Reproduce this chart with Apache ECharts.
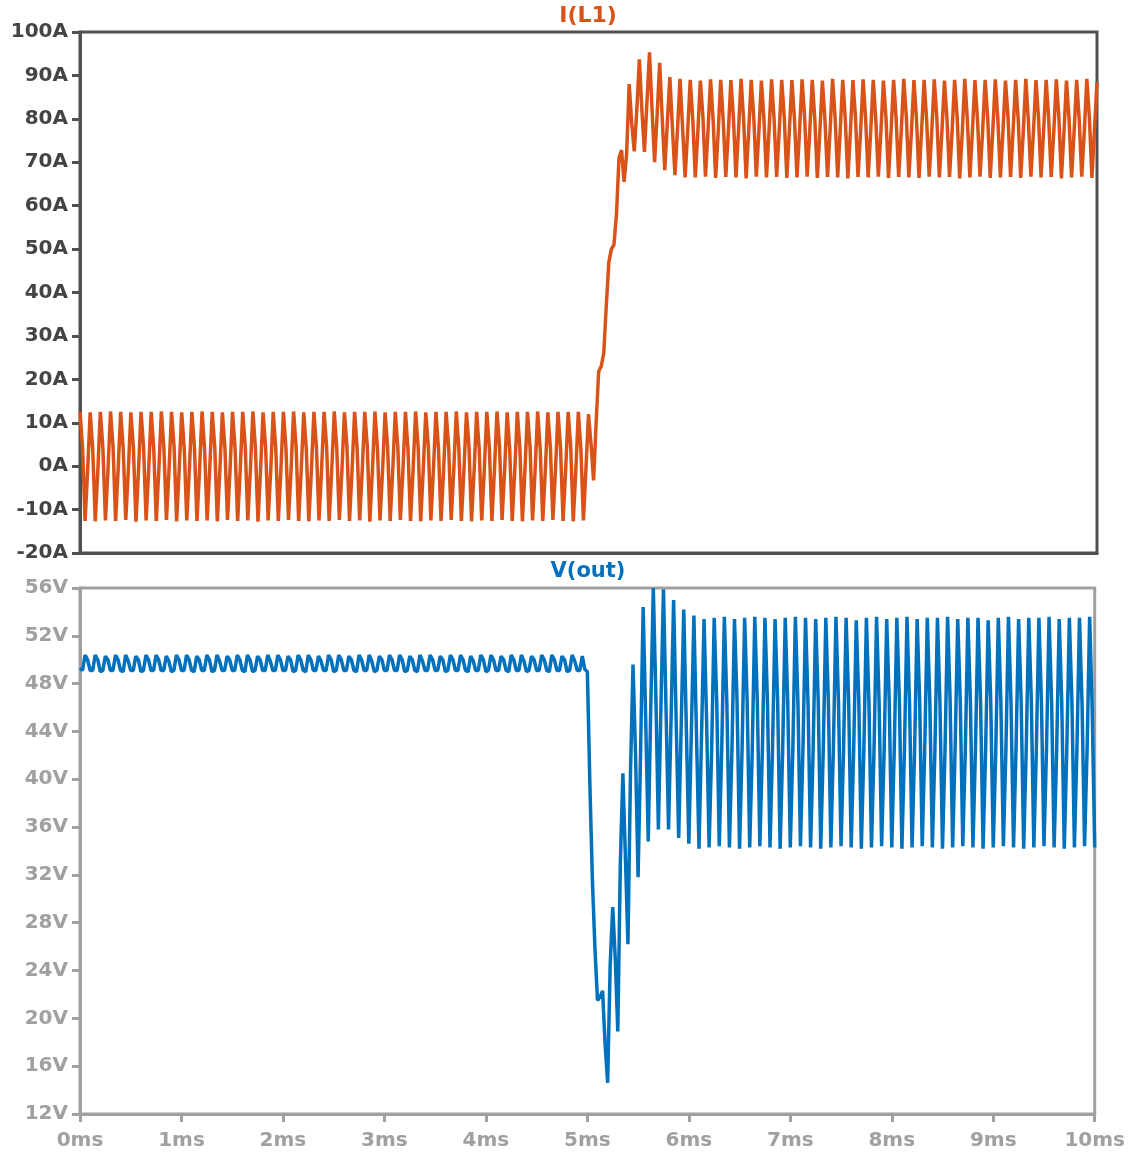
<!DOCTYPE html>
<html>
<head>
<meta charset="utf-8">
<script src="https://cdn.jsdelivr.net/npm/echarts@6/dist/echarts.min.js"></script>
<style>
html,body{margin:0;padding:0;background:#fff;}
#c{width:1128px;height:1154px;}
</style>
</head>
<body>
<div id="c"></div>
<script>
// ---- data ----
// sample step of the traces, in ms
const sampleStepMs = 0.025;
const xTicksMs = [0,1,2,3,4,5,6,7,8,9,10];

// I(L1) in A, one row of 4 samples per 0.1 ms switching cycle, 10 cycles per line
const iL1 = [
 12.5,4.5,-12.6,-1, 12.4,4,-12.7,-1.2, 12.5,4.2,-12.5,-1, 12.6,4.5,-12.6,-0.8, 12.5,4,-12.4,-1, 12.4,4.3,-12.8,-1.2, 12.5,4.5,-12.5,-1, 12.5,4,-12.6,-1, 12.6,4.2,-12.4,-1.1, 12.5,4.5,-12.7,-1,
 12.4,4,-12.5,-1, 12.5,4.4,-12.6,-1.2, 12.6,4,-12.5,-0.9, 12.5,4.5,-12.7,-1, 12.4,4.2,-12.4,-1, 12.5,4,-12.6,-1.1, 12.5,4.5,-12.5,-1, 12.6,4.1,-12.8,-1, 12.4,4.4,-12.5,-1.2, 12.5,4,-12.6,-1,
 12.5,4.3,-12.4,-1, 12.6,4.5,-12.6,-1, 12.4,4,-12.7,-1.1, 12.5,4.2,-12.5,-0.9, 12.5,4.5,-12.6,-1, 12.6,4,-12.4,-1.2, 12.4,4.4,-12.6,-1, 12.5,4.1,-12.5,-1, 12.5,4.5,-12.8,-1.1, 12.6,4,-12.5,-1,
 12.4,4.2,-12.6,-1, 12.5,4.5,-12.4,-1.2, 12.5,4,-12.6,-1, 12.6,4.3,-12.7,-0.9, 12.4,4.5,-12.5,-1, 12.5,4,-12.6,-1.1, 12.5,4.4,-12.4,-1, 12.6,4.1,-12.6,-1, 12.4,4.5,-12.7,-1.2, 12.5,4,-12.5,-1,
 12.5,4.3,-12.6,-1, 12.6,4.5,-12.4,-1.1, 12.4,4,-12.6,-1, 12.5,4.2,-12.7,-0.9, 12.5,4.5,-12.5,-1, 12.6,4,-12.6,-1.2, 12.4,4.4,-12.4,-1, 12.5,4.1,-12.6,-1, 12.5,4.5,-12.7,-1.1, 12.5,4,-12.5,-0.5,
 12,5,-3.3,10, 21.8,23,26,37, 47,50,51,58, 71,72.8,65.5,72, 88,79,72.5,82, 93.7,82,72.4,84, 95.3,82,70,81, 92.9,80,68.2,79, 89.6,78,67,77.5, 89.2,78,66.5,77,
 89,80,66.5,77, 88.8,80.5,66.7,77.2, 89.1,80,66.4,76.8, 89,79.5,66.6,77, 88.9,80.2,66.5,77.3, 89.2,80,66.3,77, 89,80.4,66.7,76.9, 88.8,80,66.5,77.1, 89.1,79.8,66.6,77, 89,80.3,66.4,77.2,
 88.9,80,66.5,77, 89.1,80.5,66.7,76.8, 89,80,66.4,77.1, 88.8,79.7,66.6,77, 89.2,80.2,66.5,77.3, 89,80,66.3,77, 88.9,80.4,66.6,76.9, 89.1,80,66.5,77.2, 89,79.8,66.7,77, 88.8,80.3,66.4,77.1,
 89,80,66.6,77, 89.2,80.5,66.5,76.9, 88.9,80,66.4,77.2, 89,79.6,66.7,77, 89.1,80.2,66.5,77.1, 88.8,80,66.6,77, 89,80.4,66.3,76.8, 89.2,80,66.5,77.2, 88.9,79.8,66.7,77, 89,80.3,66.4,77.1,
 89.1,80,66.5,77, 88.8,80.5,66.6,77.2, 89,80,66.4,76.9, 89.2,79.7,66.7,77, 88.9,80.2,66.5,77.3, 89,80,66.6,77, 89.1,80.4,66.3,76.9, 88.8,80,66.5,77.1, 89,79.8,66.7,77, 89.2,80.3,66.4,77.5,
 88.5
];

// V(out) in V, same sampling: trough, rise, peak, fall for each 0.1 ms cycle
const vOut = [
 49.3,49.1,50.4,50, 49.1,49.1,50.4,50, 49,49.1,50.3,50, 49.1,49.1,50.4,50, 49.1,49,50.4,49.9, 49.1,49.1,50.3,50, 49,49.1,50.4,50, 49.1,49.1,50.4,50, 49.1,49.1,50.3,49.9, 49,49.1,50.4,50,
 49.1,49.1,50.4,50, 49.1,49,50.3,50, 49.1,49.1,50.4,50, 49,49.1,50.4,49.9, 49.1,49.1,50.3,50, 49.1,49.1,50.4,50, 49.1,49,50.4,50, 49,49.1,50.3,50, 49.1,49.1,50.4,49.9, 49.1,49.1,50.4,50,
 49.1,49.1,50.3,50, 49,49.1,50.4,50, 49.1,49,50.4,50, 49.1,49.1,50.3,49.9, 49.1,49.1,50.4,50, 49,49.1,50.4,50, 49.1,49.1,50.3,50, 49.1,49,50.4,50, 49.1,49.1,50.4,49.9, 49,49.1,50.3,50,
 49.1,49.1,50.4,50, 49.1,49.1,50.4,50, 49,49.1,50.3,50, 49.1,49,50.4,49.9, 49.1,49.1,50.4,50, 49.1,49.1,50.3,50, 49,49.1,50.4,50, 49.1,49.1,50.4,50, 49.1,49,50.3,49.9, 49.1,49.1,50.4,50,
 49,49.1,50.4,50, 49.1,49.1,50.3,50, 49.1,49,50.4,50, 49.1,49.1,50.4,49.9, 49,49.1,50.3,50, 49.1,49.1,50.4,50, 49.1,49,50.4,50, 49.1,49.1,50.3,50, 49,49.1,50.4,49.9, 49.1,49.1,50.3,49.2,
 49,39.5,31.5,25.8, 21.5,21.8,22.3,17.8, 14.6,24.5,29.3,25, 18.9,33,40.5,33.5, 26.2,40.5,49.6,42, 31.8,42.5,54.4,45, 34.8,46,56,47, 35.8,46,55.9,46, 35.8,45,55,45, 35.1,44.5,54.2,44.5,
 34.6,44,53.7,44, 34.2,43.5,53.4,45, 34.3,42.5,53.5,46.5, 34.4,42.8,53.6,46.3, 34.3,42.5,53.4,46.6, 34.2,42.6,53.5,46.5, 34.3,42.4,53.6,46.4, 34.4,42.5,53.5,46.5, 34.3,42.7,53.4,46.6, 34.2,42.5,53.5,46.4,
 34.3,42.5,53.6,46.5, 34.4,42.6,53.5,46.3, 34.3,42.4,53.4,46.6, 34.2,42.5,53.5,46.5, 34.3,42.8,53.6,46.4, 34.4,42.5,53.5,46.5, 34.3,42.6,53.3,46.6, 34.2,42.5,53.5,46.4, 34.3,42.4,53.6,46.5, 34.4,42.5,53.4,46.5,
 34.3,42.7,53.5,46.6, 34.2,42.5,53.6,46.4, 34.3,42.5,53.4,46.5, 34.4,42.6,53.5,46.5, 34.3,42.4,53.5,46.3, 34.2,42.5,53.6,46.6, 34.3,42.8,53.4,46.5, 34.4,42.5,53.5,46.4, 34.3,42.6,53.5,46.5, 34.2,42.5,53.3,46.6,
 34.3,42.4,53.5,46.5, 34.4,42.5,53.6,46.4, 34.3,42.7,53.4,46.5, 34.2,42.5,53.5,46.6, 34.3,42.6,53.5,46.4, 34.4,42.5,53.6,46.5, 34.3,42.4,53.4,46.5, 34.2,42.5,53.5,46.6, 34.3,42.6,53.5,46.4, 34.4,42.5,53.6,46,
 34.3
];

// ---- build ----
const toPairs = arr => arr.map((v, j) => [+(j * sampleStepMs).toFixed(3), v]);

const ORANGE = '#D95319';
const BLUE = '#0072BD';
const DARK = '#505050';
const GREY = '#a0a0a0';
const FONT = 'DejaVu Sans';

const chart = echarts.init(document.getElementById('c'), null, {renderer: 'canvas'});

const option = {
  animation: false,
  backgroundColor: '#ffffff',
  graphic: [
    {type: 'text', x: 588, y: 16, style: {text: 'I(L1)', fill: ORANGE, font: 'bold 22px "DejaVu Sans"', align: 'center', verticalAlign: 'middle', textAlign: 'center', textVerticalAlign: 'middle'}},
    {type: 'text', x: 588, y: 572, style: {text: 'V(out)', fill: BLUE, font: 'bold 21px "DejaVu Sans"', align: 'center', verticalAlign: 'middle', textAlign: 'center', textVerticalAlign: 'middle'}}
  ],
  grid: [
    {left: 80, top: 32, width: 1017, height: 521, show: true, borderColor: DARK, borderWidth: 3, backgroundColor: 'transparent'},
    {left: 80, top: 588, width: 1017, height: 526, show: true, borderColor: GREY, borderWidth: 3, backgroundColor: 'transparent'}
  ],
  xAxis: [
    {gridIndex: 0, type: 'value', min: 0, max: 10, interval: 1,
     axisLine: {show: true, onZero: false, lineStyle: {color: DARK, width: 3}},
     axisTick: {show: false}, axisLabel: {show: false}, splitLine: {show: false}},
    {gridIndex: 1, type: 'value', min: 0, max: 10, interval: 1,
     axisLine: {show: true, onZero: false, lineStyle: {color: GREY, width: 3}},
     axisTick: {show: true, length: 8, lineStyle: {color: GREY, width: 3}},
     axisLabel: {show: true, formatter: v => xTicksMs.includes(v) ? v + 'ms' : '', color: GREY, fontSize: 20, fontWeight: 'bold', fontFamily: FONT, margin: 17},
     splitLine: {show: false}}
  ],
  yAxis: [
    {gridIndex: 0, type: 'value', min: -20, max: 100, interval: 10,
     axisLine: {show: true, onZero: false, lineStyle: {color: DARK, width: 3}},
     axisTick: {show: true, length: 8, lineStyle: {color: DARK, width: 3}},
     axisLabel: {formatter: '{value}A', color: '#444444', fontSize: 20, fontWeight: 'bold', fontFamily: FONT, margin: 12},
     splitLine: {show: false}},
    {gridIndex: 1, type: 'value', min: 12, max: 56, interval: 4,
     axisLine: {show: true, onZero: false, lineStyle: {color: GREY, width: 3}},
     axisTick: {show: true, length: 8, lineStyle: {color: GREY, width: 3}},
     axisLabel: {formatter: '{value}V', color: GREY, fontSize: 20, fontWeight: 'bold', fontFamily: FONT, margin: 12},
     splitLine: {show: false}}
  ],
  series: [
    {name: 'I(L1)', type: 'line', xAxisIndex: 0, yAxisIndex: 0, data: toPairs(iL1),
     showSymbol: false, symbol: 'none', sampling: null, clip: true,
     lineStyle: {color: ORANGE, width: 3.5}, itemStyle: {color: ORANGE}},
    {name: 'V(out)', type: 'line', xAxisIndex: 1, yAxisIndex: 1, data: toPairs(vOut),
     showSymbol: false, symbol: 'none', sampling: null, clip: true,
     lineStyle: {color: BLUE, width: 3.5}, itemStyle: {color: BLUE}}
  ]
};
chart.setOption(option);
</script>
</body>
</html>
